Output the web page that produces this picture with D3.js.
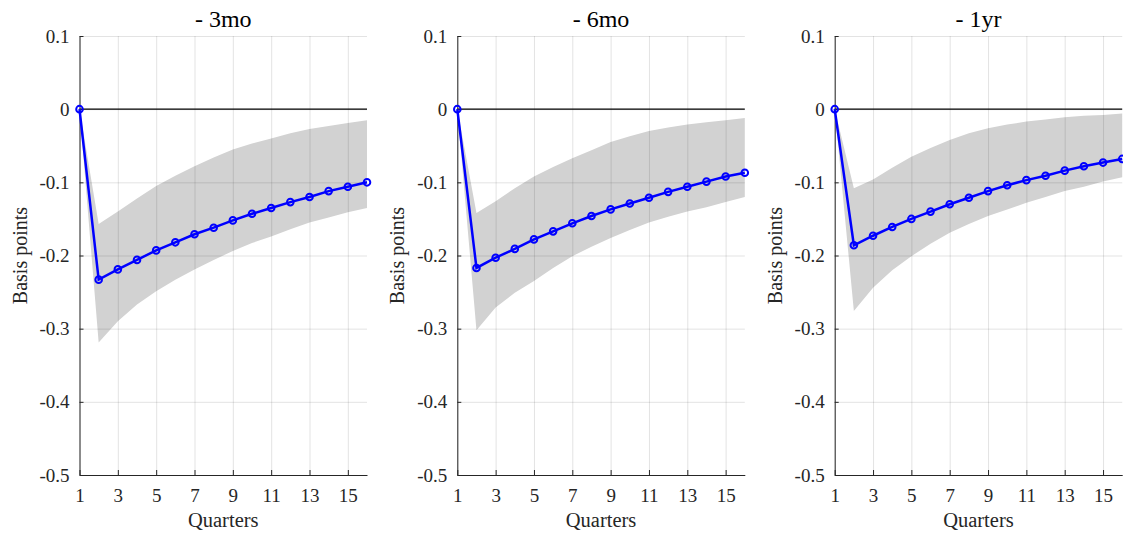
<!DOCTYPE html>
<html>
<head>
<meta charset="utf-8">
<script src="https://cdn.jsdelivr.net/npm/d3@7"></script>
<style>
  body { margin: 0; background: #fff; }
</style>
</head>
<body>
<svg id="chart"></svg>
<script>
// values
const quarters = [1, 2, 3, 4, 5, 6, 7, 8, 9, 10, 11, 12, 13, 14, 15, 16];
const xTickValues = [1, 3, 5, 7, 9, 11, 13, 15];
const yTickValues = [0.1, 0, -0.1, -0.2, -0.3, -0.4, -0.5];
const titles = ['- 3mo', '- 6mo', '- 1yr'];

const median3mo = [0, -0.233, -0.219, -0.206, -0.193, -0.182, -0.171, -0.162, -0.152, -0.143, -0.135, -0.127, -0.120, -0.112, -0.106, -0.100];
const upper3mo = [0, -0.157, -0.140, -0.122, -0.105, -0.091, -0.078, -0.066, -0.055, -0.047, -0.040, -0.033, -0.027, -0.023, -0.019, -0.015];
const lower3mo = [0, -0.319, -0.290, -0.267, -0.249, -0.233, -0.219, -0.206, -0.194, -0.183, -0.174, -0.164, -0.155, -0.148, -0.141, -0.135];

const median6mo = [0, -0.217, -0.203, -0.191, -0.178, -0.167, -0.156, -0.146, -0.137, -0.129, -0.121, -0.113, -0.106, -0.099, -0.092, -0.087];
const upper6mo = [0, -0.142, -0.126, -0.108, -0.092, -0.079, -0.067, -0.056, -0.045, -0.037, -0.030, -0.025, -0.021, -0.018, -0.015, -0.012];
const lower6mo = [0, -0.302, -0.271, -0.251, -0.235, -0.217, -0.201, -0.188, -0.176, -0.165, -0.155, -0.147, -0.140, -0.134, -0.127, -0.120];

const median1yr = [0, -0.186, -0.173, -0.161, -0.150, -0.140, -0.130, -0.121, -0.112, -0.104, -0.097, -0.091, -0.084, -0.078, -0.073, -0.068];
const upper1yr = [0, -0.108, -0.096, -0.080, -0.065, -0.053, -0.042, -0.033, -0.026, -0.021, -0.017, -0.014, -0.011, -0.009, -0.008, -0.006];
const lower1yr = [0, -0.276, -0.244, -0.220, -0.201, -0.184, -0.169, -0.157, -0.146, -0.137, -0.128, -0.120, -0.112, -0.106, -0.099, -0.093];

const medians = [median3mo, median6mo, median1yr];
const uppers = [upper3mo, upper6mo, upper1yr];
const lowers = [lower3mo, lower6mo, lower1yr];

const width = 1123;
const height = 535;
const panelLefts = [79.5, 457.3, 834.7];
const panelWidth = 287.5;
const plotTop = 36;
const plotBottom = 475;
const serif = "'Liberation Serif', 'Times New Roman', Times, serif";

const svg = d3.select('#chart').attr('width', width).attr('height', height);

const drawPanel = (p) => {
  const x = d3.scaleLinear().domain([1, 16]).range([panelLefts[p], panelLefts[p] + panelWidth]);
  const y = d3.scaleLinear().domain([-0.5, 0.1]).range([plotBottom, plotTop]);
  const g = svg.append('g');

  const rows = quarters.map((q, i) => ({ q: q, m: medians[p][i], lo: lowers[p][i], hi: uppers[p][i] }));

  // confidence band
  const area = d3.area()
    .x((d) => x(d.q))
    .y0((d) => y(d.lo))
    .y1((d) => y(d.hi));
  g.append('path').datum(rows).attr('d', area).attr('fill', '#d2d2d2');

  // grid on top of the band
  g.append('g')
    .attr('transform', 'translate(0,' + plotBottom + ')')
    .call(d3.axisBottom(x).tickValues(xTickValues).tickSize(-(plotBottom - plotTop)).tickFormat(''))
    .call((s) => s.select('.domain').remove())
    .selectAll('line').attr('stroke', '#262626').attr('stroke-opacity', 0.13);
  g.append('g')
    .attr('transform', 'translate(' + panelLefts[p] + ',0)')
    .call(d3.axisLeft(y).tickValues(yTickValues).tickSize(-panelWidth).tickFormat(''))
    .call((s) => s.select('.domain').remove())
    .selectAll('line').attr('stroke', '#262626').attr('stroke-opacity', 0.13);

  // zero line
  g.append('line')
    .attr('x1', x(1)).attr('x2', x(16))
    .attr('y1', y(0)).attr('y2', y(0))
    .attr('stroke', '#000').attr('stroke-width', 1.3);

  // axes
  const yAxis = g.append('g')
    .attr('transform', 'translate(' + panelLefts[p] + ',0)')
    .call(d3.axisLeft(y).tickValues(yTickValues).tickSizeInner(-4).tickSizeOuter(0).tickPadding(10)
      .tickFormat((d) => (d === 0 ? '0' : d3.format('.1f')(d).replace('−', '-'))));
  const xAxis = g.append('g')
    .attr('transform', 'translate(0,' + plotBottom + ')')
    .call(d3.axisBottom(x).tickValues(xTickValues).tickSizeInner(-5).tickSizeOuter(0).tickPadding(14));
  [yAxis, xAxis].forEach((a) => {
    a.attr('font-family', serif).attr('font-size', 19);
    a.select('.domain').attr('stroke', '#262626').attr('stroke-width', 1);
    a.selectAll('.tick line').attr('stroke', '#262626');
    a.selectAll('text').attr('fill', '#262626');
  });

  // median response
  const line = d3.line().x((d) => x(d.q)).y((d) => y(d.m));
  g.append('path').datum(rows).attr('d', line)
    .attr('fill', 'none').attr('stroke', '#0000ff').attr('stroke-width', 2.5);
  g.selectAll('circle.pt').data(rows).enter().append('circle')
    .attr('class', 'pt')
    .attr('cx', (d) => x(d.q)).attr('cy', (d) => y(d.m)).attr('r', 3.3)
    .attr('fill', 'none').attr('stroke', '#0000ff').attr('stroke-width', 2);

  // labels
  const cx = panelLefts[p] + panelWidth / 2;
  g.append('text').attr('x', cx).attr('y', 27).attr('text-anchor', 'middle')
    .attr('font-family', serif).attr('font-size', 24).attr('font-weight', 'normal')
    .attr('fill', '#000').text(titles[p]);
  g.append('text').attr('x', cx).attr('y', 527).attr('text-anchor', 'middle')
    .attr('font-family', serif).attr('font-size', 20.5).attr('fill', '#262626').text('Quarters');
  g.append('text')
    .attr('transform', 'translate(' + (panelLefts[p] - 53) + ',' + (plotTop + plotBottom) / 2 + ') rotate(-90)')
    .attr('text-anchor', 'middle')
    .attr('font-family', serif).attr('font-size', 20).attr('fill', '#262626').text('Basis points');
};

[0, 1, 2].forEach(drawPanel);
</script>
</body>
</html>
